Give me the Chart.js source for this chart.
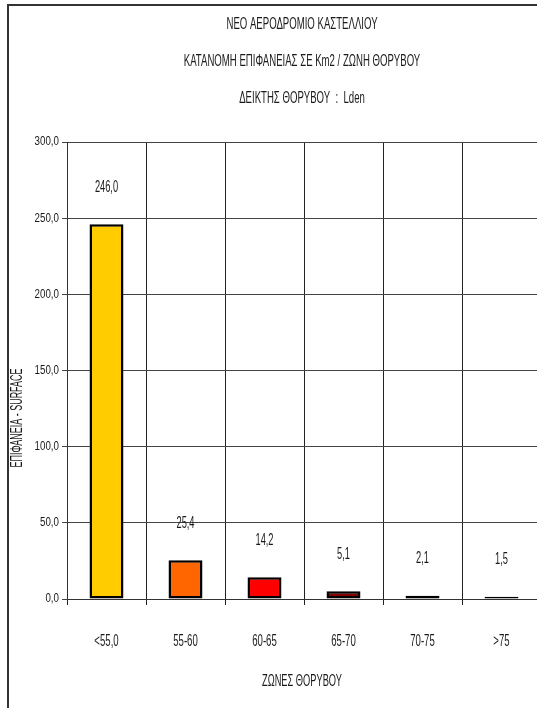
<!DOCTYPE html>
<html>
<head>
<meta charset="utf-8">
<script src="https://cdn.jsdelivr.net/npm/chart.js@4"></script>
<style>
  html, body { margin: 0; padding: 0; background: #fff; overflow: hidden; width: 537px; height: 708px; }
  #wrap { width: 545px; height: 708px; }
</style>
</head>
<body>
<div id="wrap"><canvas id="c" width="545" height="708"></canvas></div>
<script>
const FONT = '"Liberation Sans", Arial, sans-serif';

const zones = ['<55,0', '55-60', '60-65', '65-70', '70-75', '>75'];
const surfaceKm2 = [246.0, 25.4, 14.2, 5.1, 2.1, 1.5];
const barColors = ['#FFCC00', '#FF6600', '#FF0000', '#800000', '#000000', '#000000'];
const titleLines = [
  'ΝΕΟ ΑΕΡΟΔΡΟΜΙΟ ΚΑΣΤΕΛΛΙΟΥ',
  'ΚΑΤΑΝΟΜΗ ΕΠΙΦΑΝΕΙΑΣ ΣΕ Km2 / ΖΩΝΗ ΘΟΡΥΒΟΥ',
  'ΔΕΙΚΤΗΣ ΘΟΡΥΒΟΥ  :  Lden'
];
const yTitle = 'ΕΠΙΦΑΝΕΙΑ - SURFACE';
const xTitle = 'ΖΩΝΕΣ ΘΟΡΥΒΟΥ';

const fmt = v => v.toFixed(1).replace('.', ',');

// narrow text: drawn with a horizontal squeeze
function narrowText(ctx, text, x, y, size, sx, align, rot) {
  ctx.save();
  ctx.translate(x, y);
  if (rot) ctx.rotate(rot);
  ctx.scale(sx, 1);
  ctx.font = size + 'px ' + FONT;
  ctx.textAlign = align || 'center';
  ctx.textBaseline = 'middle';
  ctx.fillStyle = '#1a1a1a';
  ctx.fillText(text, 0, 0);
  ctx.restore();
}

// Frame, titles, tick labels, axis titles and value labels
const decor = {
  id: 'decor',
  beforeDraw(chart) {
    const ctx = chart.ctx;
    ctx.save();
    ctx.strokeStyle = '#333';
    ctx.lineWidth = 2;
    ctx.beginPath();
    ctx.moveTo(8, 708);
    ctx.lineTo(8, 5);
    ctx.lineTo(537, 5);
    ctx.stroke();
    ctx.restore();
  },
  afterDraw(chart) {
    const ctx = chart.ctx;
    const area = chart.chartArea;
    const cx = (area.left + 537) / 2;
    const titleY = [25, 62, 99];
    titleLines.forEach((t, i) => narrowText(ctx, t, cx, titleY[i], 16, 0.6));
    narrowText(ctx, xTitle, cx, 682, 16, 0.58);
    narrowText(ctx, yTitle, 18, 418, 16, 0.56, 'center', -Math.PI / 2);

    const ys = chart.scales.y;
    ys.ticks.forEach(t => {
      narrowText(ctx, fmt(t.value), 59, ys.getPixelForValue(t.value), 12.5, 0.78, 'right');
    });
    const xs = chart.scales.x;
    zones.forEach((z, i) => {
      narrowText(ctx, z, xs.getPixelForTick(i), 642, 16, 0.6);
    });
    const meta = chart.getDatasetMeta(0);
    meta.data.forEach((bar, i) => {
      narrowText(ctx, fmt(surfaceKm2[i]), bar.x, bar.y - 37, 16, 0.58);
    });
  }
};

new Chart(document.getElementById('c'), {
  type: 'bar',
  data: {
    labels: zones,
    datasets: [{
      data: surfaceKm2,
      backgroundColor: barColors,
      borderColor: '#000',
      borderWidth: 2.5,
      borderSkipped: false,
      categoryPercentage: 1,
      barPercentage: 0.43
    }]
  },
  options: {
    responsive: false,
    animation: false,
    devicePixelRatio: 1,
    layout: { padding: { left: 0, top: 142, right: 4, bottom: 49 } },
    plugins: { legend: { display: false }, title: { display: false }, tooltip: { enabled: false } },
    scales: {
      x: {
        afterFit(s) { s.height = 60; },
        grid: { color: '#222', lineWidth: 1, tickLength: 6, offset: true },
        border: { color: '#333', width: 1 },
        ticks: { display: false }
      },
      y: {
        min: 0, max: 300,
        afterFit(s) { s.width = 67; },
        grid: { color: '#444', lineWidth: 1, tickLength: 5 },
        border: { color: '#333', width: 1 },
        ticks: { stepSize: 50, display: false }
      }
    }
  },
  plugins: [decor]
});
</script>
</body>
</html>
